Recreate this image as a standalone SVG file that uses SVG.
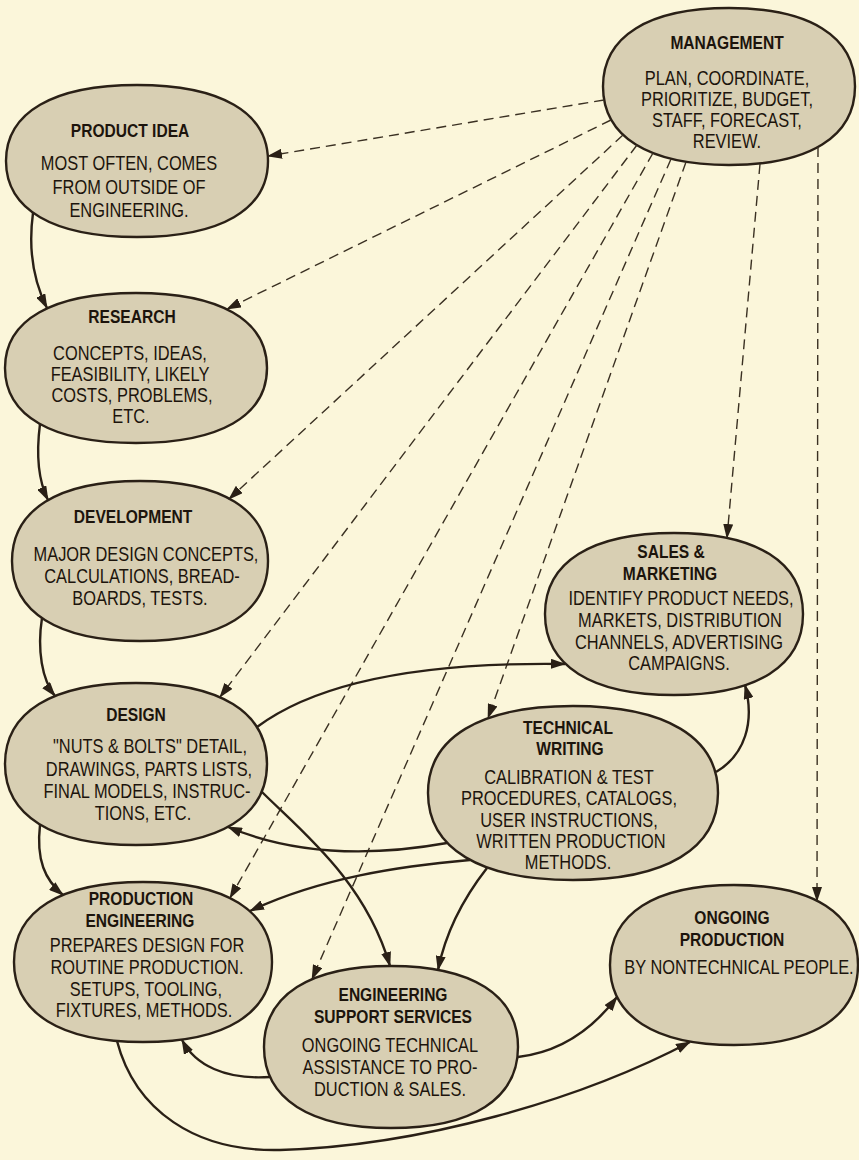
<svg xmlns="http://www.w3.org/2000/svg" width="859" height="1160" viewBox="0 0 859 1160">
<defs>
<marker id="ah" markerUnits="userSpaceOnUse" markerWidth="15" markerHeight="10" refX="14" refY="5" orient="auto">
<path d="M0,0 L15,5 L0,10 Z" fill="#2a2016"/>
</marker>
<style>
.node{fill:#d8cfb3;stroke:#2a2016;stroke-width:2.4}
.t,.b{font-family:"Liberation Sans Narrow","Arial Narrow","Liberation Sans",Arial,sans-serif;text-anchor:middle;fill:#1c140c;transform-box:fill-box;transform-origin:center;transform:scaleX(0.82)}
.t{font-weight:bold;font-size:19px}
.b{font-size:20px}
.s{fill:none;stroke:#2a2016;stroke-width:2.4;marker-end:url(#ah)}
.d{fill:none;stroke:#3a3022;stroke-width:1.4;stroke-dasharray:10 6;marker-end:url(#ah)}
</style>
</defs>
<rect width="859" height="1160" fill="#fbf6da"/>

<g id="management">
<path class="node" d="M 603 86.5 C 603 36.3 648.4 8 729 8 C 809.6 8 855 36.3 855 86.5 C 855 136.7 809.6 165 729 165 C 648.4 165 603 136.7 603 86.5 Z"/>
<text class="t" x="727" y="49">MANAGEMENT</text>
<text class="b" x="727" y="85">PLAN, COORDINATE,</text>
<text class="b" x="727" y="106">PRIORITIZE, BUDGET,</text>
<text class="b" x="727" y="127">STAFF, FORECAST,</text>
<text class="b" x="727" y="148">REVIEW.</text>
</g>

<g id="product-idea">
<path class="node" d="M 6 161 C 6 112.4 53.2 85 137 85 C 220.8 85 268 112.4 268 161 C 268 209.6 220.8 237 137 237 C 53.2 237 6 209.6 6 161 Z"/>
<text class="t" x="130" y="137">PRODUCT IDEA</text>
<text class="b" x="129" y="170">MOST OFTEN, COMES</text>
<text class="b" x="129" y="194">FROM OUTSIDE OF</text>
<text class="b" x="129" y="217">ENGINEERING.</text>
</g>

<g id="research">
<path class="node" d="M 5 368 C 5 320 52.2 293 136 293 C 219.8 293 267 320 267 368 C 267 416 219.8 443 136 443 C 52.2 443 5 416 5 368 Z"/>
<text class="t" x="132" y="323">RESEARCH</text>
<text class="b" x="130" y="360">CONCEPTS, IDEAS,</text>
<text class="b" x="130" y="381">FEASIBILITY, LIKELY</text>
<text class="b" x="132" y="402">COSTS, PROBLEMS,</text>
<text class="b" x="131" y="423">ETC.</text>
</g>

<g id="development">
<path class="node" d="M 12 561 C 12 509.8 58.1 481 140 481 C 221.9 481 268 509.8 268 561 C 268 612.2 221.9 641 140 641 C 58.1 641 12 612.2 12 561 Z"/>
<text class="t" x="133" y="523">DEVELOPMENT</text>
<text class="b" x="146" y="561">MAJOR DESIGN CONCEPTS,</text>
<text class="b" x="142" y="583">CALCULATIONS, BREAD-</text>
<text class="b" x="140" y="605">BOARDS, TESTS.</text>
</g>

<g id="design">
<path class="node" d="M 5 764 C 5 712.2 52.2 683 136 683 C 219.8 683 267 712.2 267 764 C 267 815.8 219.8 845 136 845 C 52.2 845 5 815.8 5 764 Z"/>
<text class="t" x="136" y="721">DESIGN</text>
<text class="b" x="150" y="753">"NUTS &amp; BOLTS" DETAIL,</text>
<text class="b" x="149" y="776">DRAWINGS, PARTS LISTS,</text>
<text class="b" x="147" y="798">FINAL MODELS, INSTRUC-</text>
<text class="b" x="143" y="820">TIONS, ETC.</text>
</g>

<g id="sales-marketing">
<path class="node" d="M 545 614 C 545 562.2 591.4 533 674 533 C 756.6 533 803 562.2 803 614 C 803 665.8 756.6 695 674 695 C 591.4 695 545 665.8 545 614 Z"/>
<text class="t" x="671" y="558">SALES &amp;</text>
<text class="t" x="670" y="580">MARKETING</text>
<text class="b" x="681" y="605">IDENTIFY PRODUCT NEEDS,</text>
<text class="b" x="680" y="627">MARKETS, DISTRIBUTION</text>
<text class="b" x="679" y="649">CHANNELS, ADVERTISING</text>
<text class="b" x="679" y="670">CAMPAIGNS.</text>
</g>

<g id="technical-writing">
<path class="node" d="M 428 793 C 428 737.3 480.2 706 573 706 C 665.8 706 718 737.3 718 793 C 718 848.7 665.8 880 573 880 C 480.2 880 428 848.7 428 793 Z"/>
<text class="t" x="568" y="734">TECHNICAL</text>
<text class="t" x="570" y="755">WRITING</text>
<text class="b" x="569" y="784">CALIBRATION &amp; TEST</text>
<text class="b" x="569" y="805">PROCEDURES, CATALOGS,</text>
<text class="b" x="569" y="827">USER INSTRUCTIONS,</text>
<text class="b" x="571" y="848">WRITTEN PRODUCTION</text>
<text class="b" x="568" y="869">METHODS.</text>
</g>

<g id="production-engineering">
<path class="node" d="M 14 962 C 14 910.8 60.4 882 143 882 C 225.6 882 272 910.8 272 962 C 272 1013.2 225.6 1042 143 1042 C 60.4 1042 14 1013.2 14 962 Z"/>
<text class="t" x="141" y="905">PRODUCTION</text>
<text class="t" x="140" y="927">ENGINEERING</text>
<text class="b" x="147" y="952">PREPARES DESIGN FOR</text>
<text class="b" x="147" y="974">ROUTINE PRODUCTION.</text>
<text class="b" x="146" y="996">SETUPS, TOOLING,</text>
<text class="b" x="144" y="1017">FIXTURES, METHODS.</text>
</g>

<g id="engineering-support-services">
<path class="node" d="M 264 1047 C 264 995.2 309.7 966 391 966 C 472.3 966 518 995.2 518 1047 C 518 1098.8 472.3 1128 391 1128 C 309.7 1128 264 1098.8 264 1047 Z"/>
<text class="t" x="393" y="1001">ENGINEERING</text>
<text class="t" x="393" y="1023">SUPPORT SERVICES</text>
<text class="b" x="390" y="1052">ONGOING TECHNICAL</text>
<text class="b" x="390" y="1074">ASSISTANCE TO PRO-</text>
<text class="b" x="390" y="1096">DUCTION &amp; SALES.</text>
</g>

<g id="ongoing-production">
<path class="node" d="M 610 965 C 610 913.8 654.6 885 734 885 C 813.4 885 858 913.8 858 965 C 858 1016.2 813.4 1045 734 1045 C 654.6 1045 610 1016.2 610 965 Z"/>
<text class="t" x="732" y="924">ONGOING</text>
<text class="t" x="732" y="946">PRODUCTION</text>
<text class="b" x="739" y="974">BY NONTECHNICAL PEOPLE.</text>
</g>

<g id="connectors">
<line class="d" x1="604" y1="100" x2="268" y2="156"/>
<line class="d" x1="611" y1="120" x2="227" y2="309"/>
<line class="d" x1="623" y1="135" x2="229" y2="499"/>
<line class="d" x1="637" y1="145" x2="220" y2="697"/>
<line class="d" x1="653" y1="153" x2="230" y2="898"/>
<line class="d" x1="671" y1="159" x2="312" y2="979"/>
<line class="d" x1="686" y1="162" x2="488" y2="718"/>
<line class="d" x1="760" y1="164" x2="727" y2="538"/>
<line class="d" x1="818" y1="147" x2="817" y2="901"/>

<path class="s" d="M 33 213 C 28 250 34 282 47 308"/>
<path class="s" d="M 40 424 C 36 455 38 480 48 500"/>
<path class="s" d="M 42 618 C 37 650 42 680 55 696"/>
<path class="s" d="M 40 825 C 36 860 45 880 63 895"/>
<path class="s" d="M 257 727 C 320 680 430 662 565 664"/>
<path class="s" d="M 262 792 C 300 830 365 880 390 966"/>
<path class="s" d="M 447 843 C 380 855 300 857 228 827"/>
<path class="s" d="M 470 860 C 400 866 320 878 250 911"/>
<path class="s" d="M 487 868 C 462 900 445 935 438 970"/>
<path class="s" d="M 716 772 C 745 755 755 722 745 685"/>
<path class="s" d="M 270 1077 C 225 1080 195 1065 182 1040"/>
<path class="s" d="M 518 1057 C 560 1052 592 1030 617 997"/>
<path class="s" d="M 117 1041 C 135 1110 195 1152 280 1150 C 420 1146 580 1100 690 1042"/>
</g>
</svg>
